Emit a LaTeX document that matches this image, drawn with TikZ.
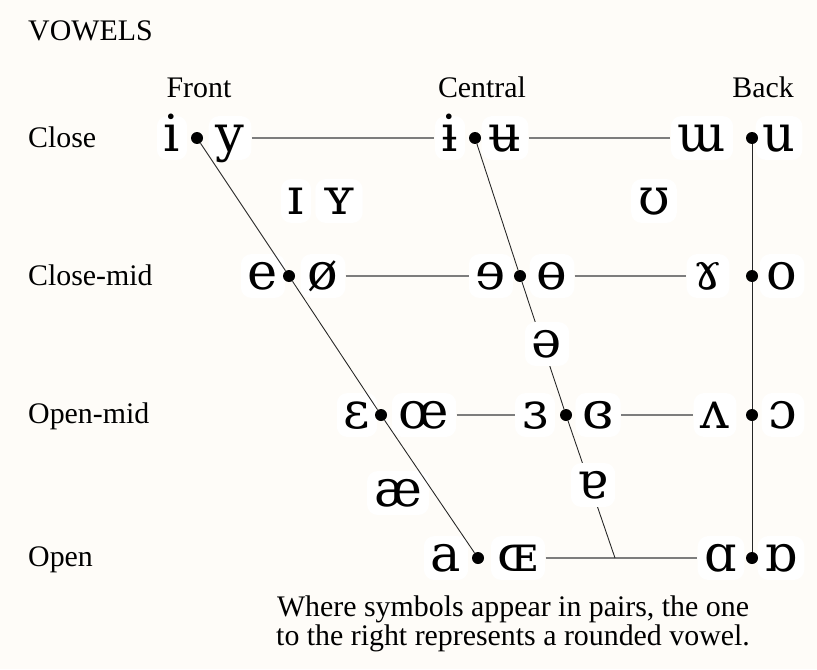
\documentclass[tikz,border=0pt]{standalone}
\usepackage{fontspec}
\setmainfont{Liberation Serif}
\newfontfamily\ipafont{DejaVu Serif}
\definecolor{paper}{RGB}{254,252,248}
\definecolor{linkgray}{RGB}{125,125,125}

\tikzset{
  sym/.style={font=\ipafont\fontsize{29}{32}\selectfont, fill=white, rounded corners=6pt,
    inner xsep=4pt, inner ysep=5pt, text height=15pt, text depth=0pt},
  vdot/.style={circle, fill=black, inner sep=0pt, minimum size=0.24cm},
  lbl/.style={font=\fontsize{17}{20}\selectfont},
  axis/.style={line width=0.5pt, black!85},
  link/.style={line width=0.7pt, linkgray},
}

\begin{document}
\begin{tikzpicture}[x=0.02cm, y=-0.02cm]
        % фон
        \fill[paper] (0,0) rectangle (817,669);
        \useasboundingbox (0,0) rectangle (817,669);

        % заголовки
        \node[lbl, anchor=base west] (title) at (22,41) {VOWELS};
        \node[lbl, anchor=base] (front) at (199,97) {Front};
        \node[lbl, anchor=base] (central) at (482,97) {Central};
        \node[lbl, anchor=base] (back) at (763,97) {Back};
        \node[lbl, anchor=base west] (rowC) at (22,147) {Close};
        \node[lbl, anchor=base west] (rowCM) at (22,285) {Close-mid};
        \node[lbl, anchor=base west] (rowOM) at (22,423) {Open-mid};
        \node[lbl, anchor=base west] (rowO) at (22,566) {Open};

        % закрытые
        \node[sym] (i) at (172,138) {i};
        \node[sym] (y) at (230,138) {y};
        \node[sym] (ibar) at (450,138) {ɨ};
        \node[sym] (ubar) at (505,138) {ʉ};
        \node[sym] (wturn) at (702,138) {ɯ};
        \node[sym] (u) at (779,138) {u};
        \node[sym] (smallI) at (296,201) {ɪ};
        \node[sym] (smallY) at (339,201) {ʏ};
        \node[sym] (upsilon) at (654,201) {ʊ};

        % средне-закрытые
        \node[sym] (e) at (263,276) {e};
        \node[sym] (oslash) at (323,276) {ø};
        \node[sym] (revE) at (491,276) {ɘ};
        \node[sym] (obar) at (552,276) {ɵ};
        \node[sym] (gam) at (708,276) {ɤ};
        \node[sym] (o) at (782,276) {o};

        % средне-открытые
        \node[sym] (eps) at (357,415) {ɛ};
        \node[sym] (oe) at (424,415) {œ};
        \node[sym] (revEps) at (535,415) {ɜ};
        \node[sym] (closedEps) at (598,415) {ɞ};
        \node[sym] (wedge) at (715,415) {ʌ};
        \node[sym] (openO) at (783,415) {ɔ};
        \node[sym] (ash) at (398,493) {æ};

        % открытые
        \node[sym] (a) at (446,558) {a};
        \node[sym] (smallOE) at (518,558) {ɶ};
        \node[sym] (alpha) at (721,558) {ɑ};
        \node[sym] (turnAlpha) at (781,558) {ɒ};

        % точки
        \node[vdot] (c-f) at (197,138) {};
        \node[vdot] (c-c) at (475,138) {};
        \node[vdot] (c-b) at (752,138) {};
        \node[vdot] (cm-f) at (289,276) {};
        \node[vdot] (cm-c) at (520,276) {};
        \node[vdot] (cm-b) at (752,276) {};
        \node[vdot] (om-f) at (381,415) {};
        \node[vdot] (om-c) at (566,415) {};
        \node[vdot] (om-b) at (752,415) {};
        \node[vdot] (o-f) at (478,558) {};
        \node[vdot] (o-b) at (752,558) {};
        \coordinate (o-c) at (615,558);

        % линии
        \draw[link] (y) -- (ibar);
        \draw[link] (ubar) -- (wturn);
        \draw[link] (oslash) -- (revE);
        \draw[link] (obar) -- (gam);
        \draw[link] (oe) -- (revEps);
        \draw[link] (closedEps) -- (wedge);
        \draw[link] (smallOE) -- (alpha);
        \draw[axis] (c-f) -- (cm-f) -- (om-f) -- (o-f);
        \draw[axis] (c-c) -- (cm-c) -- (om-c) -- (o-c);
        \draw[axis] (c-b) -- (cm-b) -- (om-b) -- (o-b);

        % поверх линии
        \node[sym] (schwa) at (547,344) {ə};
        \node[sym] (turnA) at (593,485) {ɐ};

        % пояснение
        \node[lbl, anchor=base] (note1) at (513,616) {Where symbols appear in pairs, the one};
        \node[lbl, anchor=base] (note2) at (513,645) {to the right represents a rounded vowel.};
    \end{tikzpicture}
\end{document}
